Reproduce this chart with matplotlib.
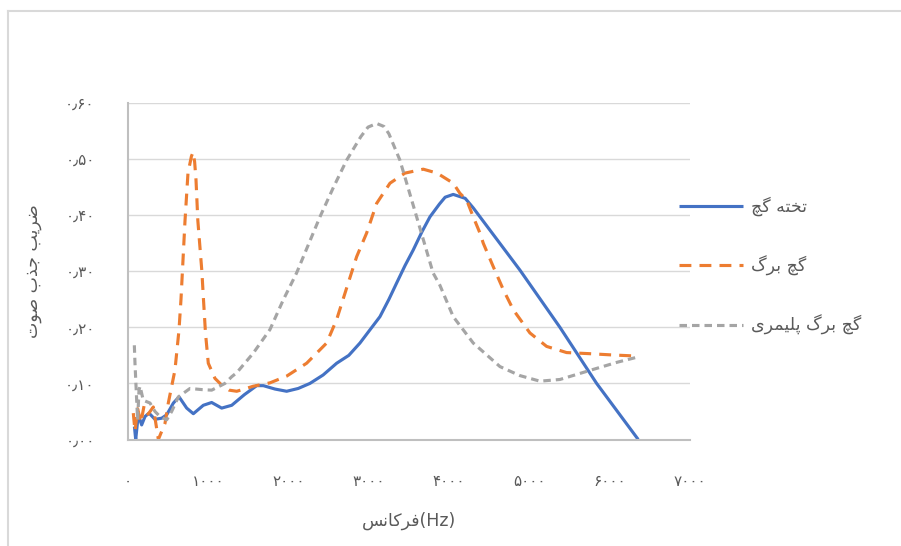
import matplotlib
matplotlib.use("Agg")
import matplotlib.pyplot as plt
from matplotlib.lines import Line2D
from matplotlib.ticker import FuncFormatter

# ------------------------------------------------------------
# Données
# ------------------------------------------------------------
hz_takhte = [80, 96, 128, 170, 212, 262, 336, 420, 482, 565, 636, 731, 814,
             938, 1042, 1167, 1292, 1450, 1603, 1686, 1830, 1976, 2120, 2266,
             2430, 2599, 2750, 2889, 3000, 3138, 3250, 3346, 3450, 3553, 3660,
             3761, 3880, 3950, 4051, 4200, 4300, 4384, 4882, 5380, 5837, 6355]
ab_takhte = [0.023, 0.0, 0.044, 0.026, 0.041, 0.047, 0.036, 0.038, 0.044,
             0.065, 0.076, 0.056, 0.046, 0.061, 0.066, 0.056, 0.061, 0.080,
             0.096, 0.096, 0.090, 0.086, 0.091, 0.100, 0.115, 0.136, 0.150,
             0.172, 0.193, 0.219, 0.250, 0.279, 0.310, 0.338, 0.370, 0.397,
             0.420, 0.432, 0.437, 0.430, 0.413, 0.397, 0.302, 0.200, 0.100,
             0.0]

hz_gach = [66, 87, 120, 160, 200, 250, 315, 378, 461, 502, 585, 635, 660, 710,
           747, 790, 810, 830, 847, 870, 920, 940, 965, 1000, 1083, 1167, 1260,
           1354, 1450, 1560, 1768, 1976, 2225, 2474, 2599, 2723, 2848, 2972,
           3097, 3263, 3450, 3677, 3850, 4051, 4134, 4218, 4300, 4384, 4425,
           4550, 4675, 4800, 5006, 5214, 5463, 5753, 6000, 6300]
ab_gach = [0.047, 0.015, 0.055, 0.030, 0.060, 0.045, 0.058, 0.0, 0.029, 0.065,
           0.124, 0.195, 0.250, 0.390, 0.475, 0.505, 0.512, 0.495, 0.463,
           0.390, 0.300, 0.250, 0.190, 0.136, 0.109, 0.097, 0.088, 0.086,
           0.090, 0.095, 0.101, 0.113, 0.136, 0.172, 0.214, 0.270, 0.326,
           0.368, 0.421, 0.457, 0.475, 0.482, 0.475, 0.457, 0.439, 0.427,
           0.397, 0.368, 0.350, 0.308, 0.267, 0.231, 0.190, 0.166, 0.155,
           0.153, 0.151, 0.149]

hz_polymer = [79, 87, 108, 120, 137, 150, 190, 274, 336, 398, 482, 544, 627,
              772, 918, 1042, 1208, 1292, 1354, 1560, 1768, 1934, 2059, 2100,
              2391, 2560, 2723, 2900, 2990, 3097, 3190, 3250, 3387, 3595, 3800,
              3885, 4051, 4300, 4633, 4880, 5131, 5380, 5795, 6100, 6376]
ab_polymer = [0.168, 0.136, 0.070, 0.035, 0.088, 0.095, 0.070, 0.065, 0.050,
              0.041, 0.035, 0.050, 0.076, 0.091, 0.089, 0.088, 0.100, 0.112,
              0.119, 0.154, 0.196, 0.249, 0.285, 0.297, 0.397, 0.450, 0.498,
              0.540, 0.557, 0.5635, 0.558, 0.545, 0.498, 0.397, 0.297, 0.275,
              0.219, 0.172, 0.130, 0.114, 0.104, 0.107, 0.125, 0.138, 0.148]

x_ticks = [0, 1000, 2000, 3000, 4000, 5000, 6000, 7000]
y_ticks = [0.0, 0.1, 0.2, 0.3, 0.4, 0.5, 0.6]

# ------------------------------------------------------------
# Mise en forme du texte persan (formes de présentation + RTL)
# ------------------------------------------------------------
FORMS = {
    "ا": ("\uFE8D", "\uFE8E"),
    "ب": ("\uFE8F", "\uFE90", "\uFE91", "\uFE92"),
    "پ": ("\uFB56", "\uFB57", "\uFB58", "\uFB59"),
    "ت": ("\uFE95", "\uFE96", "\uFE97", "\uFE98"),
    "ج": ("\uFE9D", "\uFE9E", "\uFE9F", "\uFEA0"),
    "چ": ("\uFB7A", "\uFB7B", "\uFB7C", "\uFB7D"),
    "خ": ("\uFEA5", "\uFEA6", "\uFEA7", "\uFEA8"),
    "ذ": ("\uFEAB", "\uFEAC"),
    "ر": ("\uFEAD", "\uFEAE"),
    "س": ("\uFEB1", "\uFEB2", "\uFEB3", "\uFEB4"),
    "ص": ("\uFEB9", "\uFEBA", "\uFEBB", "\uFEBC"),
    "ض": ("\uFEBD", "\uFEBE", "\uFEBF", "\uFEC0"),
    "ف": ("\uFED1", "\uFED2", "\uFED3", "\uFED4"),
    "\u06A9": ("\uFB8E", "\uFB8F", "\uFB90", "\uFB91"),
    "\u0643": ("\uFB8E", "\uFB8F", "\uFB90", "\uFB91"),
    "گ": ("\uFB92", "\uFB93", "\uFB94", "\uFB95"),
    "ل": ("\uFEDD", "\uFEDE", "\uFEDF", "\uFEE0"),
    "م": ("\uFEE1", "\uFEE2", "\uFEE3", "\uFEE4"),
    "ن": ("\uFEE5", "\uFEE6", "\uFEE7", "\uFEE8"),
    "ه": ("\uFEE9", "\uFEEA", "\uFEEB", "\uFEEC"),
    "و": ("\uFEED", "\uFEEE"),
    "\u06CC": ("\uFBFC", "\uFBFD", "\uFBFE", "\uFBFF"),
    "\u064A": ("\uFBFC", "\uFBFD", "\uFBFE", "\uFBFF"),
}


def fa(text):
    out = []
    for i, ch in enumerate(text):
        f = FORMS.get(ch)
        if f is None:
            out.append(ch)
            continue
        prev = text[i - 1] if i > 0 else ""
        nxt = text[i + 1] if i + 1 < len(text) else ""
        join_prev = prev in FORMS and len(FORMS[prev]) == 4
        join_next = len(f) == 4 and nxt in FORMS
        if join_prev and join_next:
            out.append(f[3])
        elif join_prev:
            out.append(f[1])
        elif join_next:
            out.append(f[2])
        else:
            out.append(f[0])
    return "".join(reversed(out))


DIGITS = str.maketrans("0123456789", "۰۱۲۳۴۵۶۷۸۹")

plt.rcParams["font.family"] = ["DejaVu Sans"]
TXT = "#595959"

fig = plt.figure(figsize=(9.01, 5.46), dpi=100)
ax = fig.add_axes([128 / 901, 1 - 439.5 / 546, 562 / 901, 336.5 / 546])

ax.plot(hz_takhte, ab_takhte, color="#4472C4", lw=2.25,
        label=fa("تخته گچ"), solid_capstyle="butt")
ax.plot(hz_gach, ab_gach, color="#ED7D31", lw=2.25, dashes=(3.8, 2.6),
        label=fa("گچ برگ"))
ax.plot(hz_polymer, ab_polymer, color="#A5A5A5", lw=2.25, dashes=(2.4, 1.6),
        label=fa("گچ برگ پلیمری"))

ax.set_xlim(0, 7000)
ax.set_ylim(0, 0.6)
ax.set_xticks(x_ticks)
ax.set_yticks(y_ticks)
ax.xaxis.set_major_formatter(FuncFormatter(lambda v, p: f"{int(v)}".translate(DIGITS)))
ax.yaxis.set_major_formatter(FuncFormatter(
    lambda v, p: f"{v:.2f}".replace(".", "\u066B").translate(DIGITS)))
ax.tick_params(length=0, labelsize=11, labelcolor=TXT)
ax.tick_params(axis="x", pad=25)
ax.tick_params(axis="y", pad=24)

ax.grid(True, axis="y", color="#D9D9D9", lw=1)
ax.set_axisbelow(True)
for s in ["top", "right"]:
    ax.spines[s].set_visible(False)
for s in ["left", "bottom"]:
    ax.spines[s].set_color("#BFBFBF")
    ax.spines[s].set_linewidth(1.5)

ax.set_xlabel(fa("فرکانس") + "(Hz)", fontsize=12.5, color=TXT, labelpad=16)
ax.set_ylabel(fa("ضریب جذب صوت"), fontsize=12.5, color=TXT, labelpad=17)

fig.legend(loc="center left", bbox_to_anchor=(670 / 901, 1 - 266 / 546),
           frameon=False, fontsize=12.5, labelcolor=TXT, handlelength=3.7,
           handletextpad=0.45, labelspacing=2.25, borderpad=0)

# cadre de la zone graphique
fig.add_artist(Line2D([8 / 901, 8 / 901], [1 - 11 / 546, 0], color="#D9D9D9", lw=1.5))
fig.add_artist(Line2D([8 / 901, 1], [1 - 11 / 546, 1 - 11 / 546], color="#D9D9D9", lw=1.5))

plt.savefig("out.png", dpi=100)
plt.close()
